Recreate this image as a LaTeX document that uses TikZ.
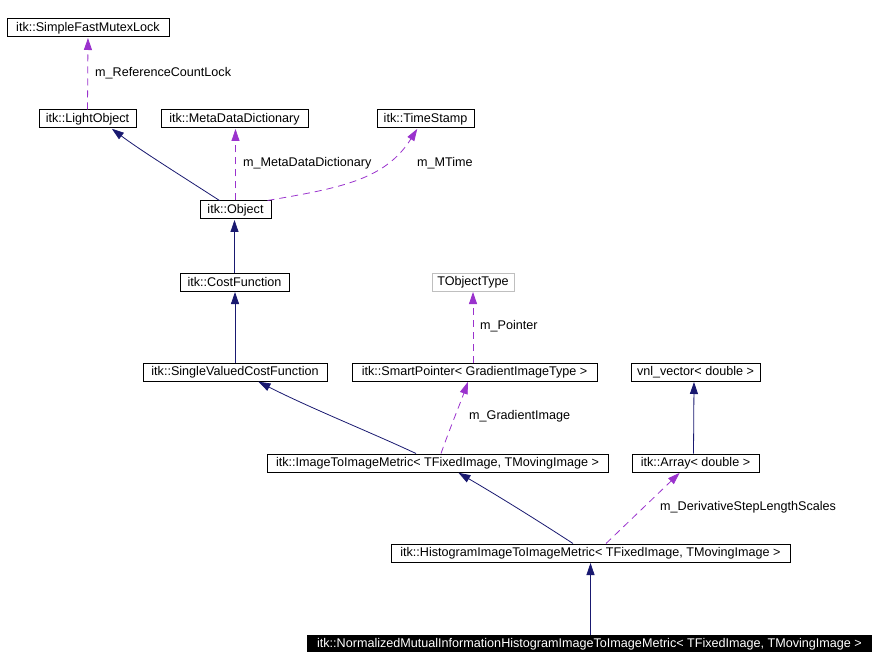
\documentclass[tikz,border=0pt]{standalone}
\usepackage{fontspec}
\setmainfont{Liberation Sans}
\usetikzlibrary{arrows.meta}
\definecolor{navyc}{HTML}{191970}
\definecolor{purp}{HTML}{9A32CD}
\begin{document}
\begin{tikzpicture}[x=1pt,y=-1pt,
  font=\fontsize{12.6}{15}\selectfont,
  cls/.style={draw=black,line width=1pt,inner sep=0pt,minimum height=18pt,anchor=center,fill=white},
  inh/.style={draw=navyc,line width=0.8pt,-{Triangle[width=8pt,length=12pt]},shorten >=0.5pt},
  dep/.style={draw=purp,line width=0.8pt,dash pattern=on 7pt off 5pt,-{Triangle[width=8pt,length=12pt]},shorten >=0.5pt},
  lbl/.style={anchor=west,inner sep=0pt}]
\useasboundingbox (0,0) rectangle (877,652);
\node[cls,minimum width=162pt] (sfm) at (88,28) {itk::SimpleFastMutexLock};
\node[cls,minimum width=97pt] (lo) at (87.5,119) {itk::LightObject};
\node[cls,minimum width=147pt] (mdd) at (234.5,119) {itk::MetaDataDictionary};
\node[cls,minimum width=97pt] (ts) at (425.5,119) {itk::TimeStamp};
\node[cls,minimum width=71pt] (obj) at (235.5,210) {itk::Object};
\node[cls,minimum width=109pt] (cf) at (234.5,282) {itk::CostFunction};
\node[cls,draw=black!25,minimum width=82pt] (tot) at (473,282) {TObjectType};
\node[cls,minimum width=184pt] (svcf) at (235,372) {itk::SingleValuedCostFunction};
\node[cls,minimum width=245pt] (sp) at (474.5,372) {itk::SmartPointer< GradientImageType >};
\node[cls,minimum width=129pt] (vnl) at (695.5,372) {vnl\_vector< double >};
\node[cls,minimum width=341pt] (itim) at (437.5,463) {itk::ImageToImageMetric< TFixedImage, TMovingImage >};
\node[cls,minimum width=127pt] (arr) at (695.5,463) {itk::Array< double >};
\node[cls,minimum width=399pt] (hist) at (590.5,553) {itk::HistogramImageToImageMetric< TFixedImage, TMovingImage >};
\node[cls,fill=black,text=white,minimum width=564pt] (nmi) at (589.5,644) {itk::NormalizedMutualInformationHistogramImageToImageMetric< TFixedImage, TMovingImage >};

\draw[dep] (lo.north) -- (sfm.south);
\node[lbl] (l1) at (95,73) {m\_ReferenceCountLock};
\draw[inh] ([xshift=-16]obj.north) .. controls (180,175) and (140,150) .. ([xshift=24]lo.south);
\draw[dep] (obj.north) -- (obj.north |- mdd.south);
\node[lbl] (l2) at (243,163) {m\_MetaDataDictionary};
\draw[dep] ([xshift=32]obj.north) .. controls (340,188) and (385,180) .. ([xshift=-8]ts.south);
\node[lbl] (l3) at (417,163) {m\_MTime};
\draw[inh] (cf.north) -- (obj.south -| cf.north);
\draw[inh] (svcf.north) -- (cf.south -| svcf.north);
\draw[dep] (sp.north -| tot.south) -- (tot.south);
\node[lbl] (l4) at (480,326) {m\_Pointer};
\draw[inh] ([xshift=-2]arr.north) -- ([xshift=-1.5]vnl.south);
\draw[inh] ([xshift=-21.5]itim.north) .. controls (370,432) and (310,408) .. ([xshift=23]svcf.south);
\draw[dep] ([xshift=3.5]itim.north) .. controls (450,428) and (460,404) .. ([xshift=-6.5]sp.south);
\node[lbl] (l5) at (469,416) {m\_GradientImage};
\draw[inh] ([xshift=-17.5]hist.north) .. controls (540,522) and (500,497) .. ([xshift=20.5]itim.south);
\draw[dep] ([xshift=15.5]hist.north) -- ([xshift=-15.5]arr.south);
\node[lbl] (l6) at (660,507) {m\_DerivativeStepLengthScales};
\draw[inh] (nmi.north -| hist.south) -- (hist.south);
\end{tikzpicture}
\end{document}
